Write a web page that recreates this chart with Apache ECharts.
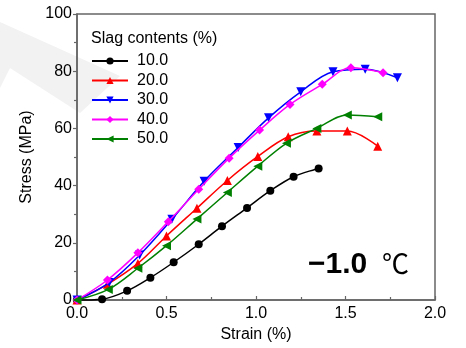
<!DOCTYPE html>
<html><head><meta charset="utf-8">
<script src="https://cdn.jsdelivr.net/npm/echarts@6/dist/echarts.min.js"></script>
<style>html,body{margin:0;padding:0;background:#fff}#c{width:466px;height:348px}</style>
</head><body><div id="c"></div>
<script>
var seriesNames = ['10.0', '20.0', '30.0', '40.0', '50.0'];
var s10 = [[0,0],[0.14,0.3],[0.28,3.2],[0.41,7.8],[0.54,13.2],[0.68,19.5],[0.81,25.8],[0.95,32.2],[1.08,38.2],[1.21,43.1],[1.35,46.0]];
var s20 = [[0,0],[0.17,5.5],[0.34,12.8],[0.50,22.4],[0.67,32.1],[0.84,41.8],[1.01,50.2],[1.18,57.1],[1.34,59.1],[1.51,59.1],[1.68,53.8]];
var s30 = [[0,0],[0.18,6.1],[0.35,15.7],[0.53,28.2],[0.71,41.5],[0.90,53.3],[1.07,63.7],[1.25,72.8],[1.43,79.8],[1.61,80.7],[1.79,77.7]];
var s40 = [[0,0],[0.17,7.0],[0.34,16.5],[0.51,27.4],[0.68,38.7],[0.85,49.6],[1.02,59.4],[1.19,68.4],[1.37,75.4],[1.53,81.2],[1.71,79.5]];
var s50 = [[0,0],[0.175,3.7],[0.34,11.1],[0.50,19.0],[0.67,28.3],[0.84,37.6],[1.01,46.8],[1.17,54.8],[1.34,60.0],[1.51,64.7],[1.68,64.1]];
var xTicks = [0, 0.5, 1.0, 1.5, 2.0];
var yTicks = [0, 20, 40, 60, 80, 100];

var colors = ['#000000', '#ff0000', '#0000ff', '#ff00ff', '#008000'];
var symbols = ['circle', 'triangle', 'triangle', 'diamond', 'triangle'];
var rotates = [0, 0, 180, 0, 90];
var sizes = [8, 9, 9, 9, 9];
var datas = [s10, s20, s30, s40, s50];
var font = 'Liberation Sans, Arial, sans-serif';
var axisCol = '#666666';

var series = datas.map(function (d, i) {
  return {
    name: seriesNames[i], type: 'line', data: d, smooth: 0.35,
    symbol: symbols[i], symbolSize: sizes[i], symbolRotate: rotates[i],
    showAllSymbol: true, clip: false,
    lineStyle: { color: colors[i], width: 1.5 },
    itemStyle: { color: colors[i] },
    z: 3 + i
  };
});

var chart = echarts.init(document.getElementById('c'), null, { renderer: 'canvas' });
chart.setOption({
  animation: false,
  backgroundColor: '#ffffff',
  grid: { left: 77, top: 14, right: 31, bottom: 48, show: true, borderColor: axisCol, borderWidth: 1.5, backgroundColor: 'transparent' },
  legend: {
    orient: 'vertical', left: 86, top: 48, itemGap: 3.5, itemWidth: 36, itemHeight: 9,
    data: seriesNames,
    textStyle: { fontFamily: font, fontSize: 16, color: '#000', padding: [0, 0, 0, 4] }
  },
  xAxis: {
    type: 'value', min: 0, max: 2, interval: 0.5,
    name: 'Strain (%)', nameLocation: 'middle', nameGap: 20,
    nameTextStyle: { fontFamily: font, fontSize: 16, color: '#000' },
    axisLine: { lineStyle: { color: axisCol, width: 1.5 } },
    axisTick: { inside: true, length: 4, lineStyle: { color: axisCol, width: 1.2 } },
    minorTick: { show: true, splitNumber: 2, length: 3, lineStyle: { color: axisCol, width: 1.2 } },
    axisLabel: { fontFamily: font, fontSize: 16, color: '#000', margin: 6,
      formatter: function (v) { return xTicks.indexOf(v) >= 0 ? v.toFixed(1) : ''; } },
    splitLine: { show: false }
  },
  yAxis: {
    type: 'value', min: 0, max: 100, interval: 20,
    name: 'Stress (MPa)', nameLocation: 'middle', nameGap: 30,
    nameTextStyle: { fontFamily: font, fontSize: 16, color: '#000' },
    axisLine: { show: true, lineStyle: { color: axisCol, width: 1.5 } },
    axisTick: { show: true, inside: false, length: 4, lineStyle: { color: axisCol, width: 1.2 } },
    minorTick: { show: true, splitNumber: 2, length: 3, lineStyle: { color: axisCol, width: 1.2 } },
    axisLabel: { fontFamily: font, fontSize: 16, color: '#000', margin: 5,
      formatter: function (v) { return yTicks.indexOf(v) >= 0 ? String(v) : ''; } },
    splitLine: { show: false }
  },
  graphic: [
    { type: 'polygon', z: -10, silent: true,
      shape: { points: [[0,22],[120,76],[80,113],[10,68],[0,88]] },
      style: { fill: '#f2f2f2' } },
    { type: 'text', left: 91, top: 31, z: 10,
      style: { text: 'Slag contents (%)', font: '16px ' + font, fill: '#000' } },
    { type: 'text', left: 308, top: 250, z: 10,
      style: { text: '\u22121.0', font: 'bold 30px ' + font, fill: '#000' } },
    { type: 'text', left: 382, top: 250, z: 10,
      style: { text: '\u2103', font: '27px "Noto Sans CJK SC", sans-serif', fill: '#000' } }
  ],
  series: series
});
</script>
</body></html>
